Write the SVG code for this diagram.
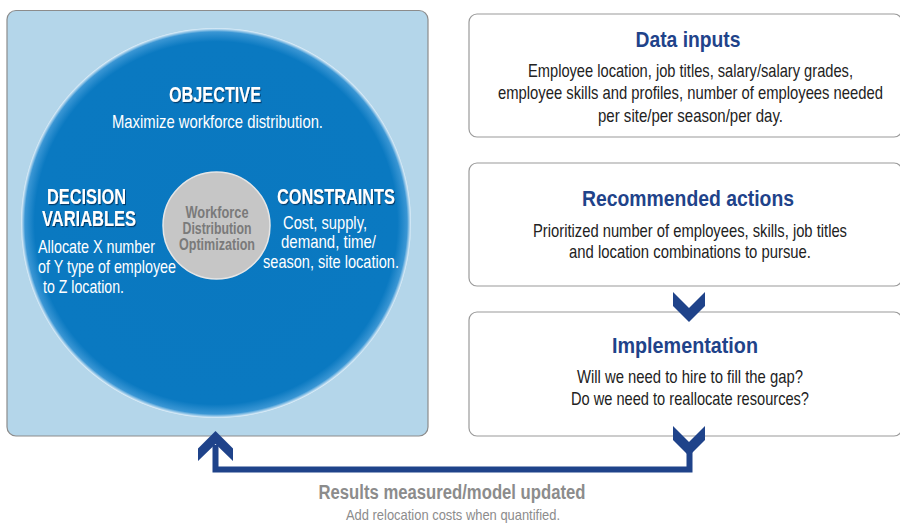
<svg xmlns="http://www.w3.org/2000/svg" width="900" height="525" viewBox="0 0 900 525">
  <style>
    text { font-family: "Liberation Sans", Arial, sans-serif; }
    .hd { font-weight: bold; font-size: 22px; fill: #ffffff; filter: url(#sh); }
    .cb { font-size: 19px; fill: #ffffff; }
    .core { font-weight: bold; font-size: 16px; fill: #7a7a7a; text-anchor: middle; }
    .box { fill: #ffffff; stroke: #9a9a9a; stroke-width: 1.2; }
    .bt { font-weight: bold; font-size: 22px; fill: #1f438a; text-anchor: middle; }
    .bb { font-size: 18.5px; fill: #222222; text-anchor: middle; }
    .chev { fill: #1f438a; }
    .loop { fill: none; stroke: #1f438a; stroke-width: 6; stroke-linejoin: miter; }
    .mid { text-anchor: middle; }
  </style>
  <defs>
    <radialGradient id="rg" cx="0.5" cy="0.5" r="0.5">
      <stop offset="0" stop-color="#0a78c0"/>
      <stop offset="0.93" stop-color="#0a79c1"/>
      <stop offset="0.98" stop-color="#3a96d4"/>
      <stop offset="1" stop-color="#e6f2fa"/>
    </radialGradient>
    <filter id="sh" x="-10%" y="-30%" width="130%" height="160%">
      <feDropShadow dx="1" dy="1.2" stdDeviation="0.7" flood-color="#02204a" flood-opacity="0.7"/>
    </filter>
  </defs>

  <g id="model">
    <rect x="7" y="10.5" width="421" height="425.5" rx="9" fill="#b4d6ea" stroke="#8c8c8c" stroke-width="1.2"/>
    <circle cx="216" cy="223" r="195" fill="url(#rg)"/>
    <g id="objective">
      <text class="hd mid" x="215" y="102" textLength="92" lengthAdjust="spacingAndGlyphs">OBJECTIVE</text>
      <text class="cb mid" x="217.5" y="128" textLength="211" lengthAdjust="spacingAndGlyphs">Maximize workforce distribution.</text>
    </g>
    <g id="decision-variables">
      <text class="hd mid" x="86.5" y="204" textLength="79" lengthAdjust="spacingAndGlyphs">DECISION</text>
      <text class="hd mid" x="89" y="226" textLength="94" lengthAdjust="spacingAndGlyphs">VARIABLES</text>
      <text class="cb" x="38" y="253" textLength="117" lengthAdjust="spacingAndGlyphs">Allocate X number</text>
      <text class="cb" x="38" y="273" textLength="138" lengthAdjust="spacingAndGlyphs">of Y type of employee</text>
      <text class="cb" x="43" y="293" textLength="81" lengthAdjust="spacingAndGlyphs">to Z location.</text>
    </g>
    <g id="constraints">
      <text class="hd mid" x="336" y="204" textLength="118" lengthAdjust="spacingAndGlyphs">CONSTRAINTS</text>
      <text class="cb" x="283" y="229" textLength="84" lengthAdjust="spacingAndGlyphs">Cost, supply,</text>
      <text class="cb" x="281" y="248" textLength="95" lengthAdjust="spacingAndGlyphs">demand, time/</text>
      <text class="cb" x="263" y="268" textLength="136" lengthAdjust="spacingAndGlyphs">season, site location.</text>
    </g>
    <g id="core">
      <circle cx="216.5" cy="225.5" r="53.5" fill="#c6c6c6" stroke="#e6e6e6" stroke-width="1.5"/>
      <text class="core" x="217" y="218" textLength="63" lengthAdjust="spacingAndGlyphs">Workforce</text>
      <text class="core" x="217" y="234" textLength="69" lengthAdjust="spacingAndGlyphs">Distribution</text>
      <text class="core" x="217" y="250" textLength="76" lengthAdjust="spacingAndGlyphs">Optimization</text>
    </g>
  </g>

  <g id="data-inputs">
    <rect class="box" x="469" y="14" width="433" height="123" rx="8"/>
    <text class="bt" x="688" y="47" textLength="105" lengthAdjust="spacingAndGlyphs">Data inputs</text>
    <text class="bb" x="690.5" y="77" textLength="325" lengthAdjust="spacingAndGlyphs">Employee location, job titles, salary/salary grades,</text>
    <text class="bb" x="690.5" y="99" textLength="385" lengthAdjust="spacingAndGlyphs">employee skills and profiles, number of employees needed</text>
    <text class="bb" x="690.5" y="122" textLength="185" lengthAdjust="spacingAndGlyphs">per site/per season/per day.</text>
  </g>

  <g id="recommended-actions">
    <rect class="box" x="469" y="163" width="433" height="123" rx="8"/>
    <text class="bt" x="688" y="206" textLength="212" lengthAdjust="spacingAndGlyphs">Recommended actions</text>
    <text class="bb" x="690" y="237" textLength="314" lengthAdjust="spacingAndGlyphs">Prioritized number of employees, skills, job titles</text>
    <text class="bb" x="690" y="258" textLength="242" lengthAdjust="spacingAndGlyphs">and location combinations to pursue.</text>
  </g>

  <g id="implementation">
    <rect class="box" x="469" y="312" width="433" height="124" rx="8"/>
    <text class="bt" x="685" y="353" textLength="146" lengthAdjust="spacingAndGlyphs">Implementation</text>
    <text class="bb" x="690" y="383" textLength="226" lengthAdjust="spacingAndGlyphs">Will we need to hire to fill the gap?</text>
    <text class="bb" x="690" y="405" textLength="238" lengthAdjust="spacingAndGlyphs">Do we need to reallocate resources?</text>
  </g>

  <g id="connectors">
    <polygon class="chev" points="673,292 689,308 705,292 705,306 689,322 673,306"/>
    <polyline class="loop" points="689.5,445 689.5,469.5 215.5,469.5 215.5,445"/>
    <polygon class="chev" points="673,426 689,442 705,426 705,440 689,456 673,440"/>
    <polygon class="chev" points="215.5,431 233,448.5 233,461 215.5,444 198,461 198,448.5"/>
  </g>

  <g id="results">
    <text class="mid" x="452" y="499" font-size="19.5" font-weight="bold" fill="#8c8c8c" textLength="267" lengthAdjust="spacingAndGlyphs">Results measured/model updated</text>
    <text class="mid" x="453" y="520" font-size="15" fill="#8c8c8c" textLength="214" lengthAdjust="spacingAndGlyphs">Add relocation costs when quantified.</text>
  </g>
</svg>
